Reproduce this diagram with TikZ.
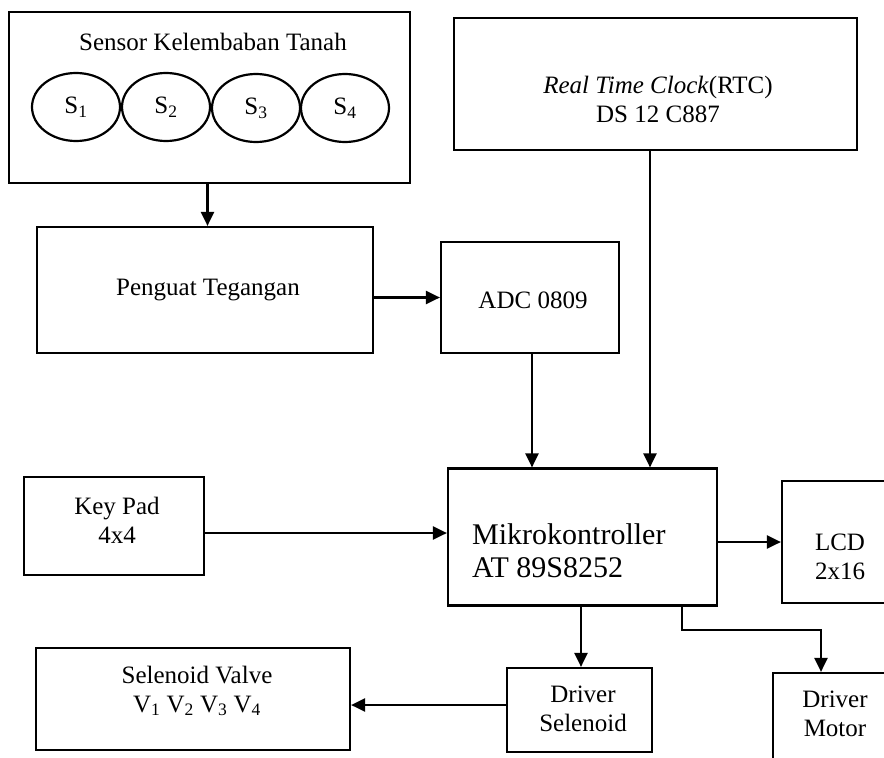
\documentclass[tikz,border=0pt]{standalone}
\usepackage{fontspec}
\setmainfont{Liberation Serif}
\usetikzlibrary{arrows.meta,shapes.geometric,calc}
\tikzset{
  blk/.style={draw,line width=2.2pt,rectangle,inner sep=0pt},
  sens/.style={draw,line width=2.2pt,ellipse,minimum width=88pt,minimum height=68pt,inner sep=0pt},
  txt/.style={font=\fontsize{25}{29}\selectfont,align=center,inner sep=0pt},
  arr/.style={line width=2.2pt,-{Triangle[length=14pt,width=13pt]}}
}
\newcommand{\sbs}[1]{\textsubscript{#1}}
\begin{document}
\begin{tikzpicture}[x=1pt,y=-1pt]
\useasboundingbox (0,0) rectangle (884,758);
\clip (0,0) rectangle (884,758);
% boxes
\node[blk,minimum width=401pt,minimum height=171pt] (sensor) at (209.5,97.5) {};
\node[blk,minimum width=336pt,minimum height=126pt] (penguat) at (205,290) {};
\node[blk,minimum width=178pt,minimum height=111pt] (adc) at (530,297.5) {};
\node[blk,minimum width=403pt,minimum height=132pt] (rtc) at (655.5,84) {};
\node[blk,minimum width=269pt,minimum height=137pt] (micro) at (582.5,537) {};
\node[blk,minimum width=130pt,minimum height=122pt] (lcd) at (847,542) {};
\node[blk,minimum width=180pt,minimum height=98pt] (keypad) at (114,526) {};
\node[blk,minimum width=314pt,minimum height=102pt] (sv) at (193,699) {};
\node[blk,minimum width=145pt,minimum height=84pt] (dsel) at (579.5,710) {};
\node[blk,minimum width=127pt,minimum height=127pt] (dmot) at (836.5,736.5) {};
% sensor contents
\node[txt] (sensorT) at (213,42) {Sensor Kelembaban Tanah};
\node[sens] (s1) at (76,107) {};
\node[sens] (s2) at (166,107) {};
\node[sens] (s3) at (256,108) {};
\node[sens] (s4) at (345,108) {};
\node[txt] (s1t) at (s1) {S\sbs{1}};
\node[txt] (s2t) at (s2) {S\sbs{2}};
\node[txt] (s3t) at (s3) {S\sbs{3}};
\node[txt] (s4t) at (s4) {S\sbs{4}};
% texts
\node[txt] (penguatT) at (208,290) {Penguat Tegangan};
\node[txt] (adcT) at (533,300) {ADC 0809};
\node[txt] (rtcT) at (658,99) {\textit{Real Time Clock}(RTC)\\DS 12 C887};
\node[txt,font=\fontsize{30}{33}\selectfont,align=left,anchor=west] (microT) at (472,551) {Mikrokontroller\\AT 89S8252};
\node[txt] (lcdT) at (840,557) {LCD\\2x16};
\node[txt] (keypadT) at (117,520) {Key Pad\\4x4};
\node[txt] (svT) at (197,691) {Selenoid Valve\\V\sbs{1} V\sbs{2} V\sbs{3} V\sbs{4}};
\node[txt] (dselT) at (583,709) {Driver\\Selenoid};
\node[txt] (dmotT) at (835,714) {Driver\\Motor};
% connectors
\draw[arr] ($(sensor.south)+(-2,0)$) -- ($(sensor.south |- penguat.north)+(-2,0)$);
\draw[arr] (adc.west -| penguat.east) -- (adc.west);
\draw[arr] ($(adc.south)+(2,0)$) -- ($(adc.south |- micro.north)+(2,0)$);
\draw[arr] ($(rtc.south)+(-5.5,0)$) -- ($(rtc.south |- micro.north)+(-5.5,0)$);
\draw[arr] (keypad.east |- 0,533) -- (micro.west |- 0,533);
\draw[arr] (micro.east |- lcd.west) -- (lcd.west);
\draw[arr] ($(micro.south)+(-1.5,0)$) -- ($(micro.south |- dsel.north)+(-1.5,0)$);
\coordinate (mb) at ($(micro.south)+(99.5,0)$);
\coordinate (bend1) at ($(mb)+(0,23)$);
\draw[arr] (mb) -- (bend1) -| ($(dmot.north)+(-15.5,0)$);
\draw[arr] (dsel.west |- 0,705) -- (sv.east |- 0,705);
\end{tikzpicture}
\end{document}
